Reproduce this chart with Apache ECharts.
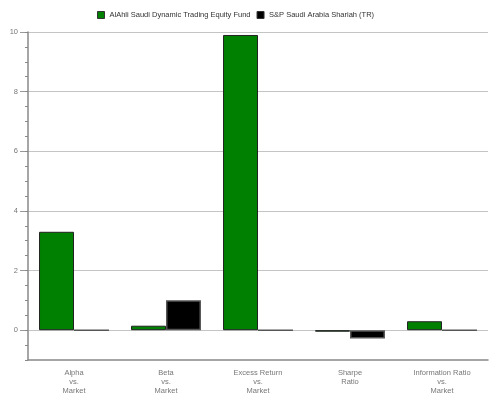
<!DOCTYPE html>
<html>
<head>
<meta charset="utf-8">
<script src="https://cdn.jsdelivr.net/npm/echarts@6/dist/echarts.min.js"></script>
<style>
  html, body { margin: 0; padding: 0; background: #fff; }
  #chart { width: 490px; height: 407px; }
</style>
</head>
<body>
<div id="chart"></div>
<script>
// 数据
const categories = ['Alpha\nvs.\nMarket', 'Beta\nvs.\nMarket', 'Excess Return\nvs.\nMarket', 'Sharpe\nRatio', 'Information Ratio\nvs.\nMarket'];
const fundName = 'AlAhli Saudi Dynamic Trading Equity Fund';
const indexName = 'S&P Saudi Arabia Shariah (TR)';
const fundValues = [3.3, 0.15, 9.9, -0.05, 0.3];
const indexValues = [0, 1.0, 0, -0.28, 0];
const yTicks = [0, 2, 4, 6, 8, 10];

const font = '"Liberation Sans", Arial, sans-serif';

const chart = echarts.init(document.getElementById('chart'), null, { renderer: 'canvas' });

const option = {
  animation: false,
  textStyle: { fontFamily: font },
  legend: {
    top: 6,
    left: 92,
    itemWidth: 7,
    itemHeight: 7,
    itemGap: 6,
    icon: 'rect',
    textStyle: { fontSize: 7.5, color: '#333', fontFamily: font },
    itemStyle: { borderColor: '#333', borderWidth: 1 },
    data: [fundName, indexName]
  },
  grid: { left: 28, right: 2, top: 32, bottom: 47, containLabel: false },
  xAxis: {
    type: 'category',
    data: categories,
    axisLine: { onZero: false, lineStyle: { color: '#888', width: 1.5 } },
    axisTick: { alignWithLabel: true, length: 6, lineStyle: { color: '#888', width: 1.5 } },
    axisLabel: { fontSize: 7.5, color: '#777', lineHeight: 9, margin: 8, fontFamily: font }
  },
  yAxis: [{
    type: 'value',
    min: -1,
    max: 10,
    axisLine: { show: true, lineStyle: { color: '#888', width: 1.5 } },
    axisTick: { show: true, length: 8, customValues: yTicks, lineStyle: { color: '#999' } },
    axisLabel: { customValues: yTicks, fontSize: 7.5, color: '#777', margin: 10, fontFamily: font },
    splitLine: { show: true, lineStyle: { color: '#c4c4c4', width: 1 } }
  }, {
    // 次刻度
    type: 'value',
    position: 'left',
    min: -1,
    max: 10,
    interval: 0.5,
    axisLine: { show: false },
    axisTick: { show: true, length: 3, lineStyle: { color: '#888' } },
    axisLabel: { show: false },
    splitLine: { show: false }
  }],
  series: [{
    name: fundName,
    type: 'bar',
    yAxisIndex: 0,
    data: fundValues,
    barGap: '0%',
    barCategoryGap: '24%',
    itemStyle: { color: '#008000', borderColor: '#222', borderWidth: 1 }
  }, {
    name: indexName,
    type: 'bar',
    yAxisIndex: 0,
    data: indexValues,
    barGap: '0%',
    barCategoryGap: '24%',
    itemStyle: { color: '#000000', borderColor: '#555', borderWidth: 1.5 }
  }]
};

chart.setOption(option);
</script>
</body>
</html>
